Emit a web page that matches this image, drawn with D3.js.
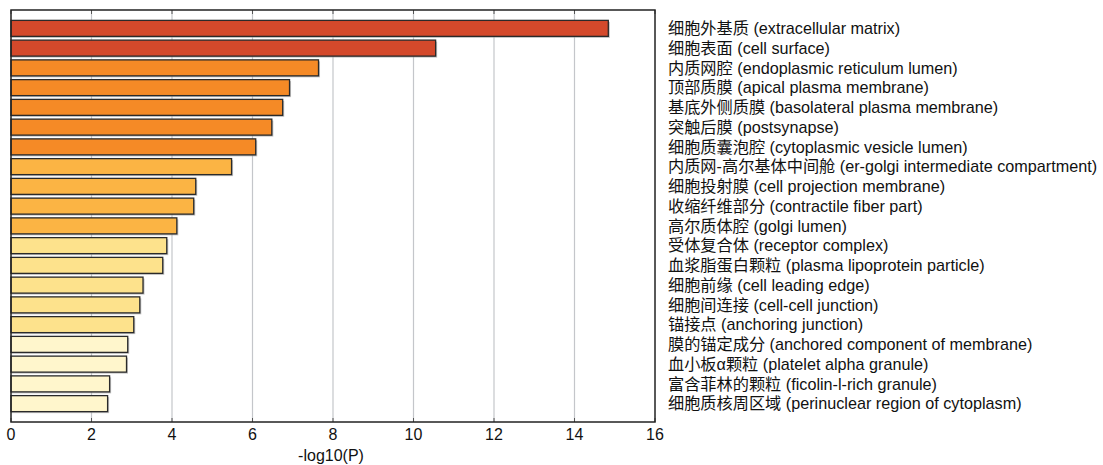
<!DOCTYPE html>
<html>
<head>
<meta charset="utf-8">
<script src="https://cdn.jsdelivr.net/npm/d3@7"></script>
<style>
	body { margin: 0; background: #fff; }
	text { font-family: 'Liberation Sans', Arial, 'Noto Sans CJK SC', sans-serif; }
</style>
</head>
<body>
<div id="chart"></div>
<script>
// terms, top to bottom
const terms = [
	'细胞外基质 (extracellular matrix)',
	'细胞表面 (cell surface)',
	'内质网腔 (endoplasmic reticulum lumen)',
	'顶部质膜 (apical plasma membrane)',
	'基底外侧质膜 (basolateral plasma membrane)',
	'突触后膜 (postsynapse)',
	'细胞质囊泡腔 (cytoplasmic vesicle lumen)',
	'内质网-高尔基体中间舱 (er-golgi intermediate compartment)',
	'细胞投射膜 (cell projection membrane)',
	'收缩纤维部分 (contractile fiber part)',
	'高尔质体腔 (golgi lumen)',
	'受体复合体 (receptor complex)',
	'血浆脂蛋白颗粒 (plasma lipoprotein particle)',
	'细胞前缘 (cell leading edge)',
	'细胞间连接 (cell-cell junction)',
	'锚接点 (anchoring junction)',
	'膜的锚定成分 (anchored component of membrane)',
	'血小板α颗粒 (platelet alpha granule)',
	'富含菲林的颗粒 (ficolin-l-rich granule)',
	'细胞质核周区域 (perinuclear region of cytoplasm)',
];
const logP = [14.84, 10.55, 7.64, 6.92, 6.75, 6.48, 6.08, 5.48, 4.59, 4.54,
	4.12, 3.87, 3.77, 3.28, 3.20, 3.05, 2.90, 2.87, 2.45, 2.40];
// colour bin of each bar
const bins = [0, 0, 1, 1, 1, 1, 1, 2, 2, 2, 2, 3, 3, 3, 3, 3, 4, 4, 4, 4];
const xTicks = [0, 2, 4, 6, 8, 10, 12, 14, 16];

const palette = ['#d4492b', '#f58a26', '#fbb444', '#fde28c', '#fff6cc'];

const W = 1103, H = 465;
const margin = { top: 10, right: 448, bottom: 43, left: 11 };
const width = W - margin.left - margin.right,
	height = H - margin.top - margin.bottom;

const svg = d3.select('#chart').append('svg')
	.attr('width', W).attr('height', H);
const g = svg.append('g')
	.attr('transform', `translate(${margin.left},${margin.top})`);

const x = d3.scaleLinear().domain([0, 16]).range([0, width]);
const y = d3.scaleBand().domain(terms).range([0, height])
	.paddingInner(0.19).paddingOuter(0.525);

// grid lines
g.selectAll('.grid').data(xTicks.slice(1, -1)).join('line')
	.attr('x1', d => x(d)).attr('x2', d => x(d))
	.attr('y1', 0).attr('y2', height)
	.attr('stroke', '#c4c6ca').attr('stroke-width', 1.2);

// small tick marks at top and bottom
g.selectAll('.tt').data(xTicks).join('line')
	.attr('x1', d => x(d)).attr('x2', d => x(d))
	.attr('y1', 0).attr('y2', 4)
	.attr('stroke', '#555');
g.selectAll('.tb').data(xTicks).join('line')
	.attr('x1', d => x(d)).attr('x2', d => x(d))
	.attr('y1', height - 4).attr('y2', height)
	.attr('stroke', '#555');

const rows = terms.map((t, i) => ({ term: t, v: logP[i], c: palette[bins[i]] }));

// drop shadow
g.selectAll('.shadow').data(rows).join('rect')
	.attr('x', 0).attr('y', d => y(d.term) + 1.5)
	.attr('width', d => x(d.v) + 1.5).attr('height', y.bandwidth())
	.attr('fill', '#9a9a9a').attr('opacity', 0.6);

// bars
g.selectAll('.bar').data(rows).join('rect')
	.attr('x', 0).attr('y', d => y(d.term))
	.attr('width', d => x(d.v)).attr('height', y.bandwidth())
	.attr('fill', d => d.c)
	.attr('stroke', '#2a2a2a').attr('stroke-width', 1.3);

// frame
g.append('rect').attr('width', width).attr('height', height)
	.attr('fill', 'none').attr('stroke', '#222').attr('stroke-width', 1.5);

// x axis labels
g.selectAll('.xl').data(xTicks).join('text')
	.attr('x', d => x(d)).attr('y', height + 18)
	.attr('text-anchor', 'middle').attr('font-size', 16).attr('fill', '#111')
	.text(d => d);

g.append('text')
	.attr('x', width / 2 - 2).attr('y', height + 39)
	.attr('text-anchor', 'middle').attr('font-size', 16).attr('fill', '#111')
	.text('-log10(P)');

// term labels on the right
g.selectAll('.lab').data(rows).join('text')
	.attr('x', width + 13).attr('y', d => y(d.term) + y.bandwidth() / 2)
	.attr('dy', '0.36em').attr('font-size', 16.2).attr('fill', '#111')
	.text(d => d.term);
</script>
</body>
</html>
